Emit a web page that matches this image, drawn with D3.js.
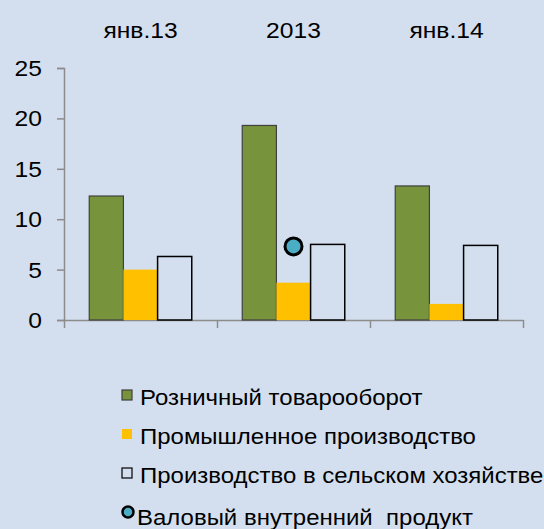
<!DOCTYPE html>
<html>
<head>
<meta charset="utf-8">
<script src="https://cdn.jsdelivr.net/npm/d3@7"></script>
<style>
  html, body { margin: 0; padding: 0; background: #d3dfee; }
  svg { display: block; font-family: "Liberation Sans", Arial, sans-serif; }
  .axis path, .axis line { stroke: #8c8c8c; stroke-width: 1.5; }
</style>
</head>
<body>
<div id="chart"></div>
<script>
const categories = ["янв.13", "2013", "янв.14"];
const seriesNames = ["Розничный товарооборот", "Промышленное производство", "Производство в сельском хозяйстве"];
const retail = [12.3, 19.3, 13.3];
const industry = [5.0, 3.7, 1.6];
const agriculture = [6.3, 7.5, 7.4];
const gdpCategory = "2013";
const gdpValue = 7.3;
const gdpName = "Валовый внутренний  продукт";
const yTicks = [0, 5, 10, 15, 20, 25];

const width = 544, height = 529;
const fontSize = 22;
const colors = ["#77933c", "#ffc000", "none"];
const strokes = ["#404040", "none", "#000"];

const svg = d3.select("#chart").append("svg")
  .attr("width", width)
  .attr("height", height);

svg.append("rect").attr("width", width).attr("height", height).attr("fill", "#d3dfee");

// wide text, like the original
function label(parent, x, y, txt, anchor, stretch) {
  return parent.append("text")
    .attr("transform", `translate(${x},${y}) scale(${stretch || 1.12},1)`)
    .attr("text-anchor", anchor || "start")
    .attr("font-size", fontSize)
    .attr("fill", "#000")
    .style("white-space", "pre")
    .text(txt);
}

const x0 = d3.scaleBand().domain(categories).range([64, 523]).padding(0);
const bw = x0.bandwidth();
const x1 = d3.scaleBand().domain(seriesNames).range([bw * 0.165, bw * 0.835]).padding(0);
const y = d3.scaleLinear().domain([0, 25]).range([320, 68]);

// y axis
svg.append("g")
  .attr("class", "axis")
  .attr("transform", "translate(64,0)")
  .call(d3.axisLeft(y).tickValues(yTicks).tickSize(7).tickSizeOuter(7).tickFormat(""));
yTicks.forEach(t => label(svg, 42, y(t) + 8, String(t), "end"));

// x axis with boundary ticks
const xb = d3.scaleLinear().domain([0, categories.length]).range([64, 523]);
svg.append("g")
  .attr("class", "axis")
  .attr("transform", "translate(0,320)")
  .call(d3.axisBottom(xb).tickValues(d3.range(categories.length + 1)).tickFormat("").tickSize(8).tickSizeOuter(0));

// bars
const table = categories.map((c, i) => ({
  cat: c,
  vals: [retail[i], industry[i], agriculture[i]]
}));

const groups = svg.append("g").selectAll("g")
  .data(table)
  .join("g")
  .attr("transform", d => `translate(${x0(d.cat)},0)`);

groups.selectAll("rect")
  .data(d => d.vals.map((v, j) => ({ name: seriesNames[j], v, j })))
  .join("rect")
  .attr("x", d => x1(d.name))
  .attr("y", d => y(d.v))
  .attr("width", x1.bandwidth())
  .attr("height", d => y(0) - y(d.v))
  .attr("fill", d => colors[d.j])
  .attr("stroke", d => strokes[d.j])
  .attr("stroke-width", d => d.j === 2 ? 1.5 : 1.2);

// GDP point
svg.append("circle")
  .attr("cx", x0(gdpCategory) + bw / 2)
  .attr("cy", y(gdpValue))
  .attr("r", 8.5)
  .attr("fill", "#4bacc6")
  .attr("stroke", "#000")
  .attr("stroke-width", 3);

// category labels on top
categories.forEach(c => label(svg, x0(c) + bw / 2, 38, c, "middle"));

// legend
const legend = svg.append("g");
const rowY = [396, 435, 474];
seriesNames.forEach((name, i) => {
  legend.append("rect")
    .attr("x", 122).attr("y", rowY[i] - 6)
    .attr("width", 10).attr("height", 10)
    .attr("fill", i === 2 ? "none" : colors[i])
    .attr("stroke", i === 0 ? "#404040" : (i === 2 ? "#000" : "none"))
    .attr("stroke-width", 1.2);
  label(legend, 140, rowY[i] + 9, name, "start", 1.09);
});
legend.append("circle")
  .attr("cx", 128).attr("cy", 512)
  .attr("r", 5.5)
  .attr("fill", "#4bacc6")
  .attr("stroke", "#000")
  .attr("stroke-width", 2.5);
label(legend, 137, 525, gdpName, "start", 1.09);
</script>
</body>
</html>
